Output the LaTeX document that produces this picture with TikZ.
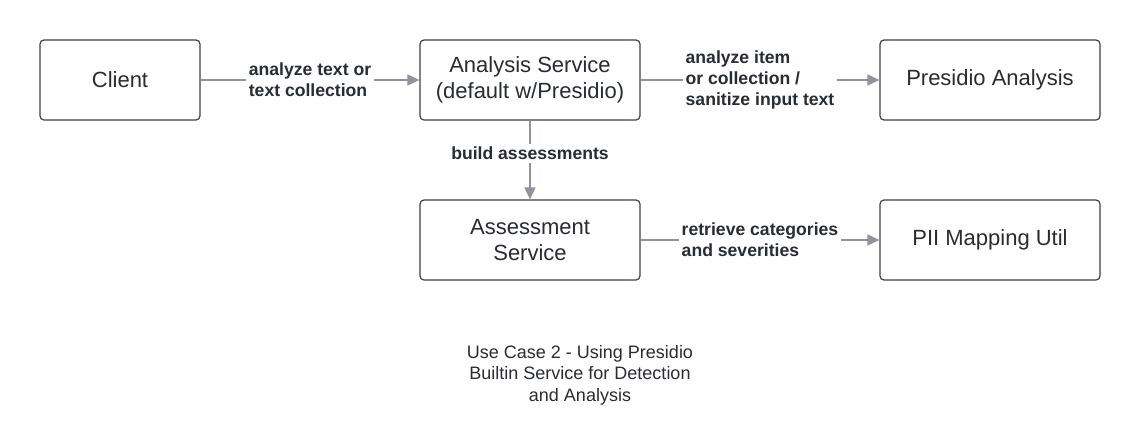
\documentclass[tikz,border=0pt]{standalone}
\usepackage{fontspec}
\setmainfont{Liberation Sans}
\usetikzlibrary{arrows.meta}
\definecolor{boxline}{HTML}{3A414A}
\definecolor{arrowgray}{HTML}{8F949D}
\definecolor{textdark}{HTML}{282C33}
\begin{document}
\begin{tikzpicture}[
    x=0.5pt,y=-0.5pt,
    box/.style={draw=boxline, line width=0.6pt, rounded corners=2pt, fill=white,
      minimum width=110pt, minimum height=40pt, align=center, text=textdark,
      font=\fontsize{11}{13}\selectfont},
    smallbox/.style={box, minimum width=80pt},
    line/.style={draw=arrowgray, line width=0.8pt, -{Triangle[length=6pt,width=5.5pt]}},
    lbl/.style={fill=white, align=left, text=textdark, inner sep=1.5pt,
      font=\fontsize{8.8}{10.7}\selectfont\bfseries}
    ]
    \useasboundingbox (0, 0) rectangle (1140, 440);
    \node[smallbox] (client) at (120, 80) {Client};
    \node[box] (analysis) at (530, 80) {Analysis Service\\(default w/Presidio)};
    \node[box] (presidio) at (990, 80) {Presidio Analysis};
    \node[box] (assess) at (530, 240) {Assessment\\Service};
    \node[box] (pii) at (990, 240) {PII Mapping Util};
    \draw[line] (client) -- node[lbl] (l1) {analyze text or\\text collection} (analysis);
    \draw[line] (analysis) -- node[lbl] (l2) {analyze item\\or collection /\\sanitize input text} (presidio);
    \draw[line] (analysis) -- node[lbl, pos=0.42] (l3) {build assessments} (assess);
    \draw[line] (assess) -- node[lbl] (l4) {retrieve categories\\and severities} (pii);
    \node[align=center, text=textdark, font=\fontsize{9}{10.75}\selectfont] (caption) at (580, 375)
      {Use Case 2 - Using Presidio\\Builtin Service for Detection\\and Analysis};
\end{tikzpicture}
\end{document}
